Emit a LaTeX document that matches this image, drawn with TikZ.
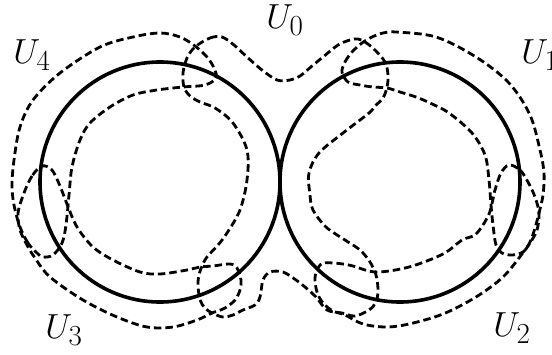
\documentclass[tikz,border=0pt]{standalone}
\begin{document}
\begin{tikzpicture}[x=1pt,y=-1pt,
  solidc/.style={line width=3.6pt},
  cover/.style={line width=2.8pt, dash pattern=on 7.5pt off 4pt},
  lab/.style={font=\fontsize{24.88}{30}\selectfont, inner sep=0pt}]
\useasboundingbox (0,0) rectangle (552,354);
\coordinate (cl) at (160,182);
\coordinate (cr) at (400,182);
\draw[solidc] (cl) circle (120pt);
\draw[solidc] (cr) circle (120pt);
% U4
\draw[cover] plot[smooth cycle, tension=0.55] coordinates {
 (37,253) (28,243) (20,227) (14,205) (12,185) (14,160) (20,127) (33,100) (60,73)
 (100,47) (133,37) (160,33) (180,37) (195,46) (207,57) (214,68) (216,78) (205,85)
 (183,87) (157,90) (133,95) (110,107) (90,123) (80,140) (72,167) (69,195) (66,225)
 (62,243) (53,255) (43,257)};
% U3
\draw[cover] plot[smooth cycle, tension=0.55] coordinates {
 (42,166) (32,176) (24,193) (18,213) (20,230) (27,245) (35,258) (50,277) (83,300)
 (117,317) (147,327) (173,327) (197,320) (212,313) (225,308) (235,300) (240,290)
 (241,280) (237,268) (230,264) (213,266) (200,267) (187,270) (160,274) (140,272)
 (113,260) (93,247) (77,227) (67,204) (60,186) (52,170)};
% U0
\draw[cover] plot[smooth cycle, tension=0.55] coordinates {
 (195,47) (210,38) (222,37) (234,45) (247,57) (262,70) (277,80) (290,80) (300,76)
 (312,66) (323,57) (338,45) (350,40) (358,39) (365,42) (375,50) (385,62) (388,75)
 (387,87) (383,98) (375,106) (369,113) (343,133) (319,153) (309,173) (310,195)
 (313,210) (326,227) (345,240) (360,250) (370,262) (376,275) (378,290) (376,302)
 (369,310) (355,316) (342,313) (327,310) (316,297) (305,287) (296,280) (283,272)
 (270,272) (263,280) (260,297) (255,305) (243,310) (233,315) (223,317) (212,313)
 (205,308) (200,300) (198,285) (199,275) (202,266) (207,257) (218,245) (227,233)
 (240,210) (247,180) (247,150) (233,123) (215,108) (200,102) (190,96) (184,87)
 (183,73) (187,58)};
% U1
\draw[cover] plot[smooth cycle, tension=0.55] coordinates {
 (342,72) (345,62) (352,52) (362,43) (372,37) (383,33) (396,32) (436,37) (476,57)
 (509,83) (530,115) (540,150) (544,173) (543,195) (539,213) (535,228) (530,242)
 (523,252) (512,255) (502,253) (496,245) (493,225) (491,205) (489,180) (485,155)
 (472,133) (449,113) (430,103) (416,97) (400,92) (387,88) (373,87) (360,85) (348,82)};
% U2
\draw[cover] plot[smooth cycle, tension=0.55] coordinates {
 (509,165) (520,170) (528,182) (535,197) (539,213) (537,230) (530,243) (522,254)
 (503,277) (476,297) (443,314) (409,324) (386,327) (363,324) (345,315) (333,311)
 (323,303) (317,292) (315,278) (318,268) (323,263) (333,263) (343,264) (353,266)
 (376,272) (409,267) (443,254) (462,240) (476,234) (489,214) (495,190) (501,173)};
\node[lab] (u0) at (285,20) {\scalebox{1.4}{$U_0$}};
\node[lab] (u1) at (540,55) {\scalebox{1.4}{$U_1$}};
\node[lab] (u2) at (512,328) {\scalebox{1.4}{$U_2$}};
\node[lab] (u3) at (64,330) {\scalebox{1.4}{$U_3$}};
\node[lab] (u4) at (32,55) {\scalebox{1.4}{$U_4$}};
\end{tikzpicture}
\end{document}
